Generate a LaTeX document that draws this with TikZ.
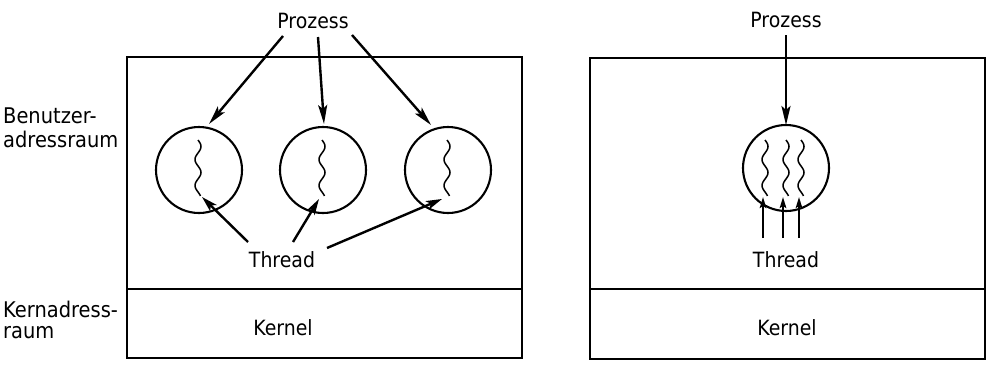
\documentclass[tikz,border=0pt]{standalone}
\usepackage{fontspec}
\setmainfont{DejaVu Sans}[FakeStretch=0.9]
\usetikzlibrary{arrows.meta}
\begin{document}
\begin{tikzpicture}[x=1pt,y=-1pt,
 lbl/.style={font=\fontsize{21}{25}\selectfont, inner sep=0pt},
 side/.style={font=\fontsize{21.6}{25}\selectfont, inner sep=0pt, anchor=base west},
 frame/.style={draw, line width=2pt},
 proc/.style={draw, circle, line width=2.1pt, minimum size=86pt, inner sep=0pt},
 parrow/.style={line width=2.4pt, -{Stealth[length=19pt,width=9pt,inset=4pt]}},
 tarrow/.style={line width=2.4pt, -{Stealth[length=16pt,width=9pt,inset=4pt]}},
 uarrow/.style={line width=2.4pt, -{Stealth[length=11pt,width=6.5pt,inset=2pt]}},
 squig/.style={line width=1.5pt},
 thr/.pic={\draw[squig] plot[domain=0:56,samples=60,smooth] ({3*sin(\x*13.85)},{\x});}]
\useasboundingbox (0,0) rectangle (1000,380);
% frames
\draw[frame] (127,57) rectangle (522,358);
\draw[frame] (127,289) -- (522,289);
\draw[frame] (590,58) rectangle (985,359);
\draw[frame] (590,289) -- (985,289);
% side labels
\node[side] (ub1) at (3,123) {Benutzer-};
\node[side] (ub2) at (3,147) {adressraum};
\node[side] (kb1) at (3,317) {Kernadress-};
\node[side] (kb2) at (3,338) {raum};
% texts
\node[lbl] (p1) at (313,21) {Prozess};
\node[lbl] (p2) at (786,20) {Prozess};
\node[lbl] (t1) at (282,260) {Thread};
\node[lbl] (t2) at (786,260) {Thread};
\node[lbl] (k1) at (283,328) {Kernel};
\node[lbl] (k2) at (787,328) {Kernel};
% processes
\node[proc] (c1) at (199,170) {};
\node[proc] (c2) at (323,170) {};
\node[proc] (c3) at (448,170) {};
\node[proc] (c4) at (786,168) {};
% threads
\pic at (198,140) {thr};
\pic at (322,140) {thr};
\pic at (447,140) {thr};
\pic at (765,140) {thr};
\pic at (786,140) {thr};
\pic at (801,140) {thr};
% arrow coordinates
\coordinate (a1s) at (283,36);  \coordinate (a1e) at (209,124);
\coordinate (a2s) at (318,37);  \coordinate (a2e) at (324,124);
\coordinate (a3s) at (352,35);  \coordinate (a3e) at (431,125);
\coordinate (b1s) at (248,242); \coordinate (b1e) at (202,197);
\coordinate (b2s) at (293,242); \coordinate (b2e) at (319,199);
\coordinate (b3s) at (327,248); \coordinate (b3e) at (442,199);
\coordinate (r0s) at (786,35);  \coordinate (r0e) at (786,125);
\coordinate (u1s) at (763,238); \coordinate (u1e) at (763,197);
\coordinate (u2s) at (783,238); \coordinate (u2e) at (783,197);
\coordinate (u3s) at (799,238); \coordinate (u3e) at (799,197);
\draw[parrow] (a1s) -- (a1e);
\draw[parrow] (a2s) -- (a2e);
\draw[parrow] (a3s) -- (a3e);
\draw[tarrow] (b1s) -- (b1e);
\draw[tarrow] (b2s) -- (b2e);
\draw[tarrow] (b3s) -- (b3e);
\draw[parrow] (r0s) -- (r0e);
\draw[uarrow] (u1s) -- (u1e);
\draw[uarrow] (u2s) -- (u2e);
\draw[uarrow] (u3s) -- (u3e);
\end{tikzpicture}
\end{document}
